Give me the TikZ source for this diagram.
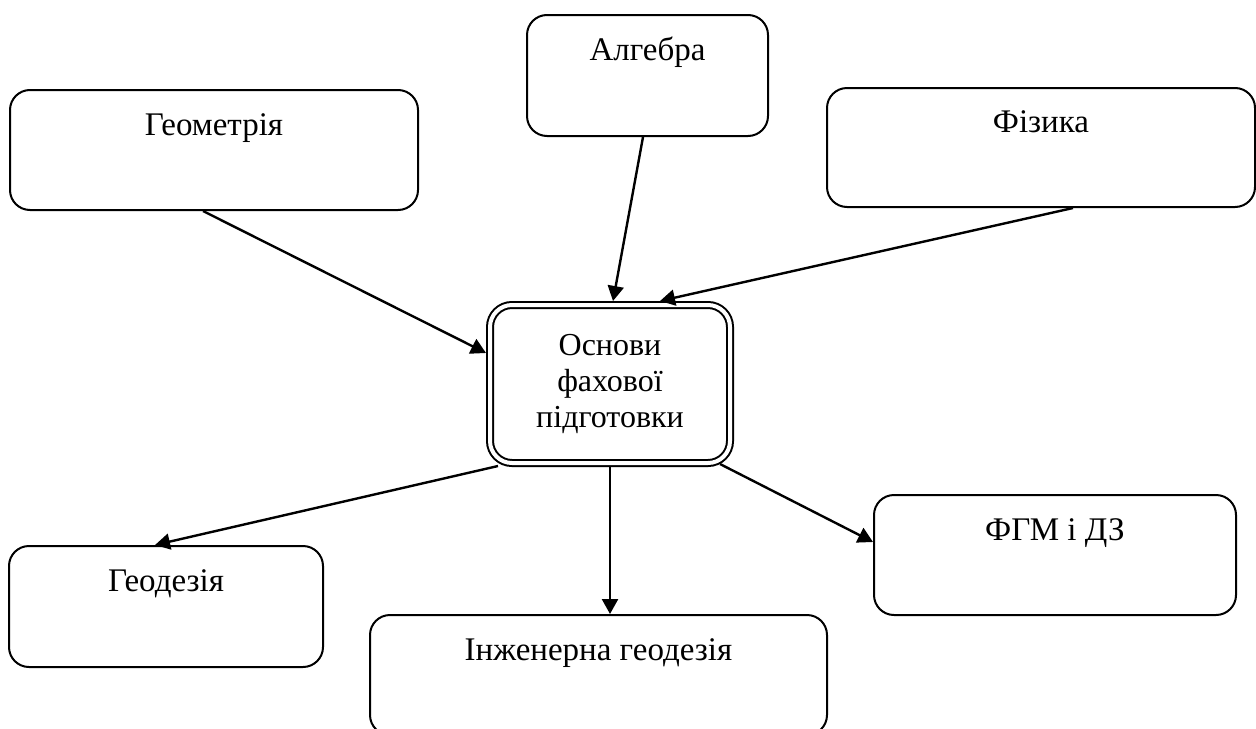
\documentclass[tikz,border=0pt]{standalone}
\usepackage{fontspec}
\setmainfont{Liberation Serif}
\usetikzlibrary{arrows.meta, calc}

\begin{document}
\begin{tikzpicture}[x=0.5pt, y=-0.5pt,
        font=\fontsize{16.5}{18}\selectfont,
        box/.style={draw, line width=1pt, rounded corners=10pt, text height=10pt, text depth=25pt},
        core/.style={draw, line width=1pt, double, double distance=2pt, rounded corners=11pt, align=center},
        arr/.style={line width=1.2pt, -{Triangle[length=7.5pt, width=8pt]}}
      ]
        \useasboundingbox (0,0) rectangle (1256,728);
        % subjects on top
        \node[box, minimum width=204pt, minimum height=60pt] (geom) at (214,150) {Геометрія};
        \node[box, minimum width=120.5pt, minimum height=60.5pt] (alg) at (647.5,75.5) {Алгебра};
        \node[box, minimum width=214pt, minimum height=59.5pt] (fiz) at (1041,147.5) {Фізика};
        % centre
        \node[core, minimum width=120pt, minimum height=79pt, font=\fontsize{16}{18}\selectfont] (osn) at (610,384) {Основи\\фахової\\підготовки};
        % subjects below
        \node[box, minimum width=157pt, minimum height=60.5pt] (geod) at (166,606.5) {Геодезія};
        \node[box, minimum width=228.5pt, minimum height=60pt] (inzh) at (598.5,675) {Інженерна геодезія};
        \node[box, minimum width=181pt, minimum height=60pt] (fgm) at (1055,555) {ФГМ і ДЗ};
        % arrows in
        \draw[arr] ($(geom.south)+(-11,0)$) -- ($(osn.west)+(-3,-31)$);
        \draw[arr] ($(alg.south)+(-4.5,0)$) -- ($(osn.north)+(3,-3)$);
        \draw[arr] ($(fiz.south)+(32,0)$) -- ($(osn.north)+(50,-3)$);
        % arrows out
        \draw[arr] ($(osn.south)+(-112,2)$) -- ($(geod.north)+(-11,0)$);
        \draw[arr] ($(osn.south)+(0,3)$) -- (osn.south |- inzh.north);
        \draw[arr] ($(osn.south)+(110,0)$) -- ($(fgm.west)+(0,-13)$);
      \end{tikzpicture}
\end{document}
